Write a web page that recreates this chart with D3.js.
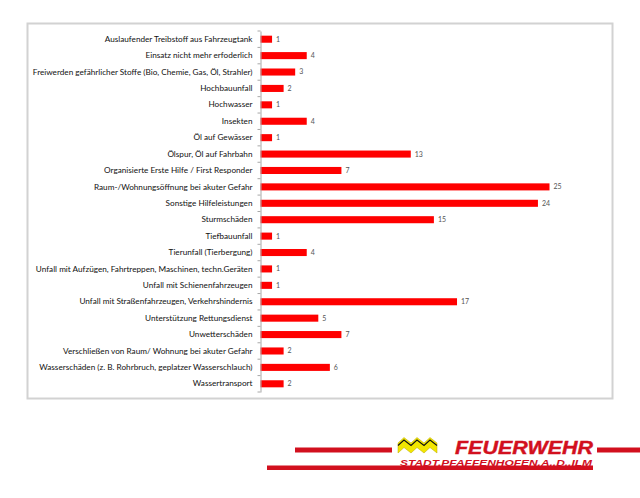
<!DOCTYPE html>
<html>
<head>
<meta charset="utf-8">
<script src="https://cdn.jsdelivr.net/npm/d3@7"></script>
<style>
  html, body { margin: 0; padding: 0; background: #fff; }
  svg { display: block; }
</style>
</head>
<body>
<svg id="chart" width="640" height="498"></svg>
<script>
const categories = [
  "Auslaufender Treibstoff aus Fahrzeugtank",
  "Einsatz nicht mehr erfoderlich",
  "Freiwerden gefährlicher Stoffe (Bio, Chemie, Gas, Öl, Strahler)",
  "Hochbauunfall",
  "Hochwasser",
  "Insekten",
  "Öl auf Gewässer",
  "Ölspur, Öl auf Fahrbahn",
  "Organisierte Erste Hilfe / First Responder",
  "Raum-/Wohnungsöffnung bei akuter Gefahr",
  "Sonstige Hilfeleistungen",
  "Sturmschäden",
  "Tiefbauunfall",
  "Tierunfall (Tierbergung)",
  "Unfall mit Aufzügen, Fahrtreppen, Maschinen, techn.Geräten",
  "Unfall mit Schienenfahrzeugen",
  "Unfall mit Straßenfahrzeugen, Verkehrshindernis",
  "Unterstützung Rettungsdienst",
  "Unwetterschäden",
  "Verschließen von Raum/ Wohnung bei akuter Gefahr",
  "Wasserschäden (z. B. Rohrbruch, geplatzer Wasserschlauch)",
  "Wassertransport"
];
const values = [1, 4, 3, 2, 1, 4, 1, 13, 7, 25, 24, 15, 1, 4, 1, 1, 17, 5, 7, 2, 6, 2];
const logoTitle = "FEUERWEHR";
const logoSubtitle = "STADT.PFAFFENHOFEN.A..D..ILM";

const svg = d3.select("#chart");

// frame
svg.append("rect")
  .attr("x", 27.5).attr("y", 23.5)
  .attr("width", 585).attr("height", 375)
  .attr("fill", "#fff")
  .attr("stroke", "#d2d2d2")
  .attr("stroke-width", 2);

const axisX = 260.5;
const x = d3.scaleLinear().domain([0, 25]).range([axisX, 549.5]);
const y = d3.scaleBand().domain(categories).range([31, 392]).paddingInner(0.57).paddingOuter(0.285);

const data = categories.map((c, i) => ({ c, v: values[i] }));

// bars
svg.append("g").selectAll("rect")
  .data(data).join("rect")
  .attr("x", x(0))
  .attr("y", d => y(d.c))
  .attr("width", d => x(d.v) - x(0))
  .attr("height", y.bandwidth())
  .attr("fill", "#ff0000");

// value labels
svg.append("g").selectAll("text")
  .data(data).join("text")
  .attr("x", d => x(d.v) + 4)
  .attr("y", d => y(d.c) + y.bandwidth() / 2)
  .attr("dy", "0.35em")
  .attr("font-family", "Lato, 'Open Sans', sans-serif")
  .attr("font-size", 7)
  .attr("fill", "#555")
  .text(d => d.v);

// axis with labels
const axis = svg.append("g")
  .attr("transform", `translate(${axisX},0)`)
  .call(d3.axisLeft(y).tickSize(0).tickPadding(8));
axis.select(".domain").attr("stroke", "#a8a8a8").attr("stroke-width", 1);
axis.selectAll("text")
  .attr("font-family", "Lato, 'Open Sans', sans-serif")
  .attr("font-size", 8.2)
  .attr("fill", "#111");

// boundary tick marks
const step = y.step();
const bounds = d3.range(categories.length + 1).map(i => y.range()[0] + i * step);
svg.append("g").selectAll("line")
  .data(bounds).join("line")
  .attr("x1", axisX - 3).attr("x2", axisX)
  .attr("y1", d => d).attr("y2", d => d)
  .attr("stroke", "#a8a8a8").attr("stroke-width", 1);

// logo
const logoRed = "#d2101e";
const logo = svg.append("g");
logo.append("rect").attr("x", 295).attr("y", 447.5).attr("width", 97).attr("height", 5).attr("fill", logoRed);
logo.append("rect").attr("x", 597).attr("y", 447.5).attr("width", 43).attr("height", 5).attr("fill", logoRed);
logo.append("rect").attr("x", 267).attr("y", 465.5).attr("width", 326).attr("height", 4.5).attr("fill", logoRed);

const zigTop = [[398,443],[404,437.5],[411,443],[417,437.5],[424,443],[430,437.5],[437,443]];
const zigBot = zigTop.map(([a, b]) => [a, b + 10]).reverse();
logo.append("path")
  .attr("d", d3.line()(zigTop.concat(zigBot)) + "Z")
  .attr("fill", "#f2e600")
  .attr("stroke", "#b8a800").attr("stroke-width", 0.5);
logo.append("path")
  .attr("d", d3.line()(zigTop.map(([a, b]) => [a, b + 2.5])))
  .attr("fill", "none")
  .attr("stroke", "#111").attr("stroke-width", 1.1);

logo.append("text")
  .attr("x", 455).attr("y", 453.5)
  .attr("font-family", "'Liberation Sans', Arial, sans-serif")
  .attr("font-weight", "bold").attr("font-style", "italic")
  .attr("font-size", 18)
  .attr("textLength", 138).attr("lengthAdjust", "spacingAndGlyphs")
  .attr("fill", logoRed)
  .attr("stroke", logoRed).attr("stroke-width", 0.4)
  .text(logoTitle);
logo.append("text")
  .attr("x", 400).attr("y", 465.5)
  .attr("font-family", "'Liberation Sans', Arial, sans-serif")
  .attr("font-weight", "bold").attr("font-style", "italic")
  .attr("font-size", 9)
  .attr("textLength", 192).attr("lengthAdjust", "spacingAndGlyphs")
  .attr("fill", logoRed)
  .text(logoSubtitle);
</script>
</body>
</html>
